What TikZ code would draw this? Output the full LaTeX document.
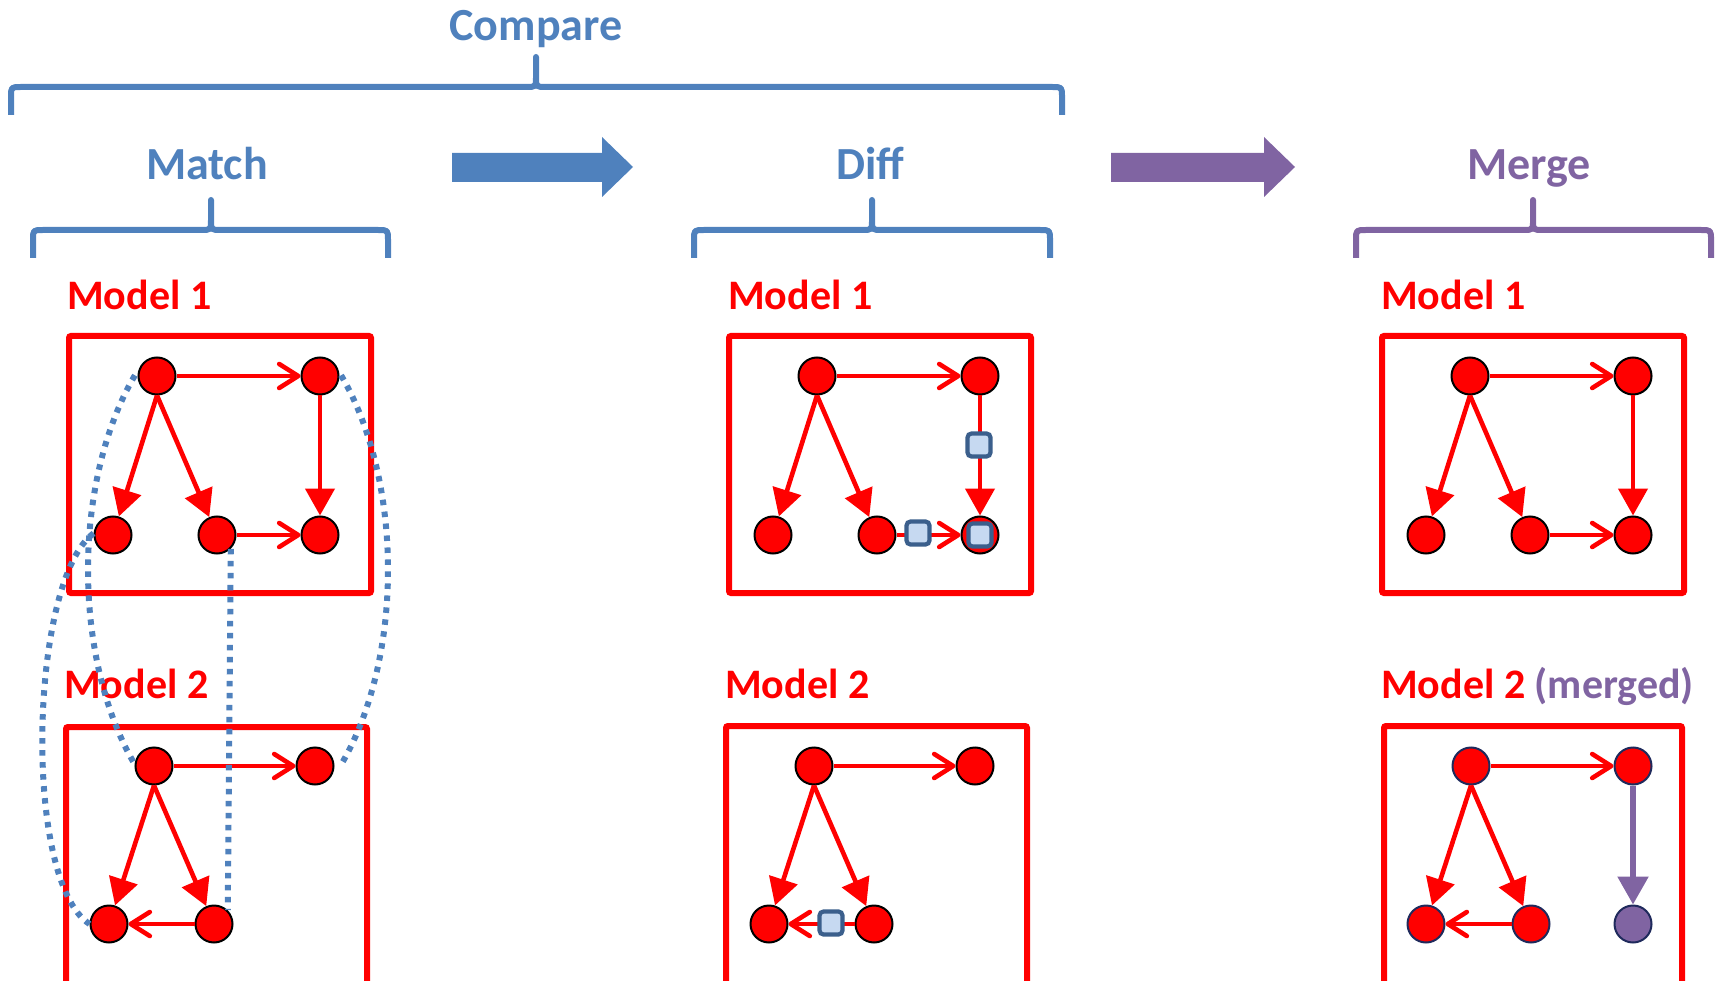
\documentclass[tikz,border=0pt]{standalone}
\usepackage{fontspec}
\setmainfont{Carlito}
\usetikzlibrary{arrows.meta}
\definecolor{cblue}{HTML}{4F81BD}
\definecolor{cpurple}{HTML}{8064A2}
\definecolor{sqfill}{HTML}{C6D9F1}
\definecolor{sqdraw}{HTML}{3B5F8C}
\definecolor{cnavy}{HTML}{1F2A5C}
\begin{document}
\begin{tikzpicture}[x=1pt,y=-1pt,
 title/.style={font=\fontsize{46}{50}\selectfont\bfseries, text=cblue, inner sep=0, anchor=base},
 mlabel/.style={font=\fontsize{42}{46}\selectfont\bfseries, text=red, anchor=base west, inner sep=0},
 vtx/.style={circle, fill=red, draw=black, line width=2pt, minimum size=37pt, inner sep=0},
 vtxn/.style={vtx, draw=cnavy},
 vtxp/.style={vtx, fill=cpurple, draw=cnavy},
 mbox/.style={draw=red, line width=6pt, rounded corners=2pt, inner sep=0},
 edg/.style={draw=red, line width=4.6pt},
 opn/.style={edg, -{Straight Barb[length=19pt,width=24pt,round]}},
 fil/.style={edg, -{Triangle[length=27pt,width=29pt]}},
 sq/.style={rectangle, fill=sqfill, draw=sqdraw, line width=4.2pt, rounded corners=4pt, minimum size=23pt, inner sep=0},
 dots/.style={draw=cblue, line width=6pt, dash pattern=on 5.5pt off 6.5pt},
 brc/.style={draw=#1, line width=6pt, line join=round},
 brc/.default=cblue,
]
\clip (0,0) rectangle (1716,981);

% ---------- titles ----------
\node[title] (tcompare) at (536,41) {Compare};
\node[title] (tmatch) at (207,180) {Match};
\node[title] (tdiff) at (870,180) {Diff};
\node[title, text=cpurple] (tmerge) at (1529,180) {Merge};

% ---------- braces ----------
\draw[brc] (11,115) -- (11,97) .. controls (11,87) .. (21,87) -- (526,87) .. controls (536,87) .. (536,77) -- (536,57) -- (536,77) .. controls (536,87) .. (546,87) -- (1052,87) .. controls (1062,87) .. (1062,97) -- (1062,115);
\draw[brc] (33,258) -- (33,240) .. controls (33,230) .. (43,230) -- (201,230) .. controls (211,230) .. (211,220) -- (211,200) -- (211,220) .. controls (211,230) .. (221,230) -- (378,230) .. controls (388,230) .. (388,240) -- (388,258);
\draw[brc] (694,258) -- (694,240) .. controls (694,230) .. (704,230) -- (862,230) .. controls (872,230) .. (872,220) -- (872,200) -- (872,220) .. controls (872,230) .. (882,230) -- (1040,230) .. controls (1050,230) .. (1050,240) -- (1050,258);
\draw[brc=cpurple] (1356,258) -- (1356,240) .. controls (1356,230) .. (1366,230) -- (1523,230) .. controls (1533,230) .. (1533,220) -- (1533,200) -- (1533,220) .. controls (1533,230) .. (1543,230) -- (1701,230) .. controls (1711,230) .. (1711,240) -- (1711,258);

% ---------- big arrows ----------
\fill[cblue] (452,153) -- (602,153) -- (602,137) -- (633,167) -- (602,197) -- (602,182) -- (452,182) -- cycle;
\fill[cpurple] (1111,153) -- (1264,153) -- (1264,137) -- (1295,167) -- (1264,197) -- (1264,182) -- (1111,182) -- cycle;

% ---------- model labels ----------
\node[mlabel] (lm1) at (67,310) {Model 1};
\node[mlabel] (lm2) at (64,698) {Model 2};
\node[mlabel] (ld1) at (728,310) {Model 1};
\node[mlabel] (ld2) at (725,698) {Model 2};
\node[mlabel] (le1) at (1381,310) {Model 1};
\node[mlabel] (le2) at (1381,698) {Model 2 \textcolor{cpurple}{(merged)}};

% ---------- boxes ----------
\node[mbox, minimum width=302pt, minimum height=257pt] (bm1) at (220,464.5) {};
\node[mbox, minimum width=301pt, minimum height=284pt] (bm2) at (216.5,869) {};
\node[mbox, minimum width=302pt, minimum height=257pt] (bd1) at (880,464.5) {};
\node[mbox, minimum width=301pt, minimum height=284pt] (bd2) at (876.5,868) {};
\node[mbox, minimum width=302pt, minimum height=257pt] (be1) at (1533,464.5) {};
\node[mbox, minimum width=298pt, minimum height=284pt] (be2) at (1533,868) {};

% ---------- Match ----------
\node[vtx] (a1) at (157,376) {};
\node[vtx] (a2) at (320,376) {};
\node[vtx] (a3) at (113,535) {};
\node[vtx] (a4) at (217,535) {};
\node[vtx] (a5) at (320,535) {};
\draw[opn] (a1) -- (a2);
\draw[fil] (a1.south) -- (a3);
\draw[fil] (a1.south) -- (a4);
\draw[fil] (a2) -- (a5);
\draw[opn] (a4) -- (a5);

\node[vtx] (b1) at (154,766) {};
\node[vtx] (b2) at (315,766) {};
\node[vtx] (b3) at (109,924) {};
\node[vtx] (b4) at (214,924) {};
\draw[opn] (b1) -- (b2);
\draw[fil] (b1.south) -- (b3);
\draw[fil] (b1.south) -- (b4);
\draw[opn] (b4) -- (b3);

% dotted match ellipses
\draw[dots] plot[domain=226.6:133.4, samples=80] ({238+150*cos(\x)}, {570+268*sin(\x)});
\draw[dots] plot[domain=-46.6:46.6, samples=80] ({238+150*cos(\x)}, {570+268*sin(\x)});
\draw[dots] (a3.175) .. controls (30,580) and (22,880) .. (b3.180);
\draw[dots] (a4.-45) -- (b4.45);

% ---------- Diff ----------
\node[vtx] (c1) at (817,376) {};
\node[vtx] (c2) at (980,376) {};
\node[vtx] (c3) at (773,535) {};
\node[vtx] (c4) at (877,535) {};
\node[vtx] (c5) at (980,535) {};
\draw[opn] (c1) -- (c2);
\draw[fil] (c1.south) -- (c3);
\draw[fil] (c1.south) -- (c4);
\draw[fil] (c2) -- (c5);
\draw[opn] (c4) -- (c5);
\node[sq] (s1) at (979,445) {};
\node[sq] (s2) at (918,533) {};
\node[sq] (s3) at (980,535) {};

\node[vtx] (d1) at (814,766) {};
\node[vtx] (d2) at (975,766) {};
\node[vtx] (d3) at (769,924) {};
\node[vtx] (d4) at (874,924) {};
\draw[opn] (d1) -- (d2);
\draw[fil] (d1.south) -- (d3);
\draw[fil] (d1.south) -- (d4);
\draw[opn] (d4) -- (d3);
\node[sq] (s4) at (831,923) {};

% ---------- Merge ----------
\node[vtx] (e1) at (1470,376) {};
\node[vtx] (e2) at (1633,376) {};
\node[vtx] (e3) at (1426,535) {};
\node[vtx] (e4) at (1530,535) {};
\node[vtx] (e5) at (1633,535) {};
\draw[opn] (e1) -- (e2);
\draw[fil] (e1.south) -- (e3);
\draw[fil] (e1.south) -- (e4);
\draw[fil] (e2) -- (e5);
\draw[opn] (e4) -- (e5);

\node[vtxn] (f1) at (1471,766) {};
\node[vtxn] (f2) at (1633,766) {};
\node[vtxn] (f3) at (1426,924) {};
\node[vtxn] (f4) at (1531,924) {};
\node[vtxp] (f5) at (1633,924) {};
\draw[opn] (f1) -- (f2);
\draw[fil] (f1.south) -- (f3);
\draw[fil] (f1.south) -- (f4);
\draw[opn] (f4) -- (f3);
\draw[draw=cpurple, line width=5.5pt, -{Triangle[length=28pt,width=30pt]}] (f2) -- (f5);
\end{tikzpicture}
\end{document}
